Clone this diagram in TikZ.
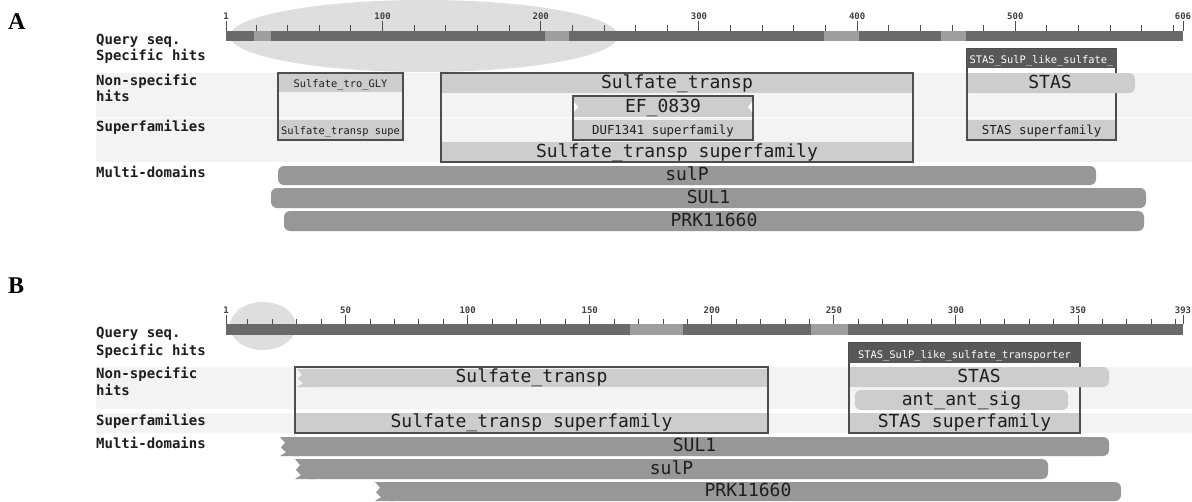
\documentclass[tikz,border=0pt]{standalone}
\usepackage{fontspec}
\newfontfamily\cdmono{DejaVu Sans Mono}
\newfontfamily\cdserif{Liberation Serif}
\definecolor{bandc}{HTML}{F3F3F3}
\definecolor{ellc}{HTML}{DEDEDE}
\definecolor{rulc}{HTML}{6A6A6A}
\definecolor{rullt}{HTML}{9E9E9E}
\definecolor{hitc}{HTML}{CDCDCD}
\definecolor{multic}{HTML}{979797}
\definecolor{specc}{HTML}{585858}
\definecolor{linec}{HTML}{4D4D4D}
\definecolor{txtc}{HTML}{1E1E1E}
\tikzset{
  panel/.style={font=\cdserif\bfseries\fontsize{24}{24}\selectfont, anchor=base west, inner sep=0pt},
  rowlab/.style={font=\cdmono\bfseries\fontsize{14}{14}\selectfont, anchor=base west, inner sep=0pt, text=txtc},
  num/.style={font=\cdmono\bfseries\fontsize{9}{9}\selectfont, anchor=base, inner sep=0pt, text=black!75},
  bigt/.style={font=\cdmono\fontsize{18}{18}\selectfont, anchor=base, inner sep=0pt, text=txtc},
  medt/.style={font=\cdmono\fontsize{12.4}{12.4}\selectfont, anchor=base, inner sep=0pt, text=txtc},
  smlt/.style={font=\cdmono\fontsize{10.4}{10.4}\selectfont, anchor=base, inner sep=0pt, text=txtc},
  whitet/.style={smlt, text=white},
  boxline/.style={draw=linec, line width=1.3pt},
  tick/.style={draw=linec, line width=1pt},
}
\newcommand{\cdjagbar}[6]{% style, x1, x2, y1, y2, extra rect options
  \fill[#1,#6] ({#2+8},#4) rectangle (#3,#5);
  \fill[#1] ({#2+20},#4) -- (#2,#4) -- ({#2+5},{#4+0.3*(#5-#4)}) -- ({#2+1},{#4+0.55*(#5-#4)}) -- ({#2+6},{#4+0.8*(#5-#4)}) -- (#2,#5) -- ({#2+20},#5) -- cycle;
}
\begin{document}
\begin{tikzpicture}[x=1pt,y=-1pt]
\useasboundingbox (0,0) rectangle (1192,501);
\fill[white] (0,0) rectangle (1192,501);

% ================= PANEL A =================
\node[panel] (labA) at (8,29) {A};
% bands
\fill[bandc] (96,73) rectangle (1192,117);
\fill[bandc] (96,118) rectangle (1192,162);
% ellipse
\fill[ellc] (424,36) ellipse [x radius=194, y radius=36];
% ruler
\fill[rulc] (226,31) rectangle (1183,41);
\fill[rullt] (254,31) rectangle (271,41);
\fill[rullt] (545,31) rectangle (569,41);
\fill[rullt] (824,31) rectangle (859,41);
\fill[rullt] (941,31) rectangle (966,41);
\foreach \r in {20,40,...,600} {\draw[tick] ({226+(\r-1)*1.58182},31) -- ++(0,-6);}
\foreach \r/\nm in {1/a1,100/a100,200/a200,300/a300,400/a400,500/a500,606/a606} {
  \draw[tick] ({226+(\r-1)*1.58182},31) -- ++(0,-10);
  \node[num] (\nm) at ({226+(\r-1)*1.58182},19) {\r};
}
% row labels
\node[rowlab] (qA) at (96,44) {Query seq.};
\node[rowlab] (sA) at (96,60) {Specific hits};
\node[rowlab] (nA) at (96,85) {Non-specific};
\node[rowlab] (hA) at (96,101) {hits};
\node[rowlab] (fA) at (96,131) {Superfamilies};
\node[rowlab] (mA) at (96,177) {Multi-domains};

% Sulfate_tra_GLY box
\draw[boxline] (278,73) rectangle (403,140);
\fill[hitc] (279,74) rectangle (402,92);
\fill[hitc] (279,120) rectangle (402,139);
\node[smlt] (glyA) at (340.5,87) {Sulfate\_tro\_GLY};
\node[smlt] (glysA) at (340.5,134) {Sulfate\_transp supe};

% Sulfate_transp box
\draw[boxline] (441,73) rectangle (913,162);
\fill[hitc] (442,74) rectangle (912,93);
\fill[hitc] (442,142) rectangle (912,161);
\node[bigt] (stA) at (677,88) {Sulfate\_transp};
\node[bigt] (stsA) at (677,157) {Sulfate\_transp superfamily};
% EF_0839 box
\draw[boxline] (573,96) rectangle (753,140);
\fill[hitc] (574,97) rectangle (752,117);
\fill[hitc] (574,120) rectangle (752,139);
\fill[white] (574,102) -- (578,107) -- (574,112) -- cycle;
\fill[white] (752,102) -- (748,107) -- (752,112) -- cycle;
\node[bigt] (efA) at (663,112) {EF\_0839};
\node[medt] (dufA) at (663,134) {DUF1341 superfamily};

% STAS box
\draw[boxline] (967,49) rectangle (1116,140);
\fill[specc] (966.5,48.5) rectangle (1116.5,68);
\fill[hitc, rounded corners=6pt] (968,73) rectangle (1135,93);
\fill[hitc] (968,73) rectangle (990,93);
\fill[hitc] (968,120) rectangle (1115,139);
\node[whitet] (spA) at (1041.5,63) {STAS\_SulP\_like\_sulfate\_};
\node[bigt] (stasA) at (1050,88) {STAS};
\node[medt] (stasfA) at (1041.5,134) {STAS superfamily};

% multi-domains
\fill[multic, rounded corners=6pt] (278,166) rectangle (1096,185);
\fill[multic, rounded corners=6pt] (271,188) rectangle (1146,208);
\fill[multic, rounded corners=6pt] (284,211) rectangle (1144,231);
\node[bigt] (sulpA) at (687,180.5) {sulP};
\node[bigt] (sul1A) at (708.5,203.5) {SUL1};
\node[bigt] (prkA) at (714,226) {PRK11660};

% ================= PANEL B =================
\node[panel] (labB) at (8,293) {B};
\fill[bandc] (96,367) rectangle (1192,409);
\fill[bandc] (96,413) rectangle (1192,433);
\fill[ellc] (263,326) ellipse [x radius=33, y radius=24];
\fill[rulc] (226,324) rectangle (1183,335);
\fill[rullt] (630,324) rectangle (683,335);
\fill[rullt] (811,324) rectangle (848,335);
\foreach \r in {10,20,...,390} {\draw[tick] ({226+(\r-1)*2.44133},324) -- ++(0,-5);}
\foreach \r/\nm in {1/b1,50/b50,100/b100,150/b150,200/b200,250/b250,300/b300,350/b350,393/b393} {
  \draw[tick] ({226+(\r-1)*2.44133},324) -- ++(0,-9);
  \node[num] (\nm) at ({226+(\r-1)*2.44133},313) {\r};
}
\node[rowlab] (qB) at (96,337) {Query seq.};
\node[rowlab] (sB) at (96,355) {Specific hits};
\node[rowlab] (nB) at (96,378) {Non-specific};
\node[rowlab] (hB) at (96,395) {hits};
\node[rowlab] (fB) at (96,425) {Superfamilies};
\node[rowlab] (mB) at (96,448) {Multi-domains};

% Sulfate_transp box B
\draw[boxline] (295,367) rectangle (768,433);
\cdjagbar{hitc}{297}{767}{369}{387}{sharp corners}
\fill[hitc] (296,413) rectangle (767,432);
\node[bigt] (stB) at (531.5,382.5) {Sulfate\_transp};
\node[bigt] (stsB) at (531.5,427.5) {Sulfate\_transp superfamily};

% STAS box B
\draw[boxline] (849,343) rectangle (1080,433);
\fill[specc] (848.5,342.5) rectangle (1080.5,363);
\fill[hitc, rounded corners=6pt] (850,367) rectangle (1109,387);
\fill[hitc] (850,367) rectangle (870,387);
\fill[hitc, rounded corners=6pt] (855,390) rectangle (1068,410);
\fill[hitc] (850,413) rectangle (1079,432);
\node[whitet] (spB) at (964.5,358) {STAS\_SulP\_like\_sulfate\_transporter};
\node[bigt] (stasB) at (979,382.5) {STAS};
\node[bigt] (antB) at (961.5,405.5) {ant\_ant\_sig};
\node[bigt] (stasfB) at (964.5,427.5) {STAS superfamily};

% multi-domains B
\cdjagbar{multic}{280}{1109}{437}{456}{rounded corners=6pt}
\cdjagbar{multic}{295}{1048}{459}{479}{rounded corners=6pt}
\cdjagbar{multic}{375}{1121}{482}{501}{rounded corners=6pt}
\node[bigt] (sul1B) at (694.5,451.5) {SUL1};
\node[bigt] (sulpB) at (671.5,474.5) {sulP};
\node[bigt] (prkB) at (748,496.5) {PRK11660};
\end{tikzpicture}
\end{document}
